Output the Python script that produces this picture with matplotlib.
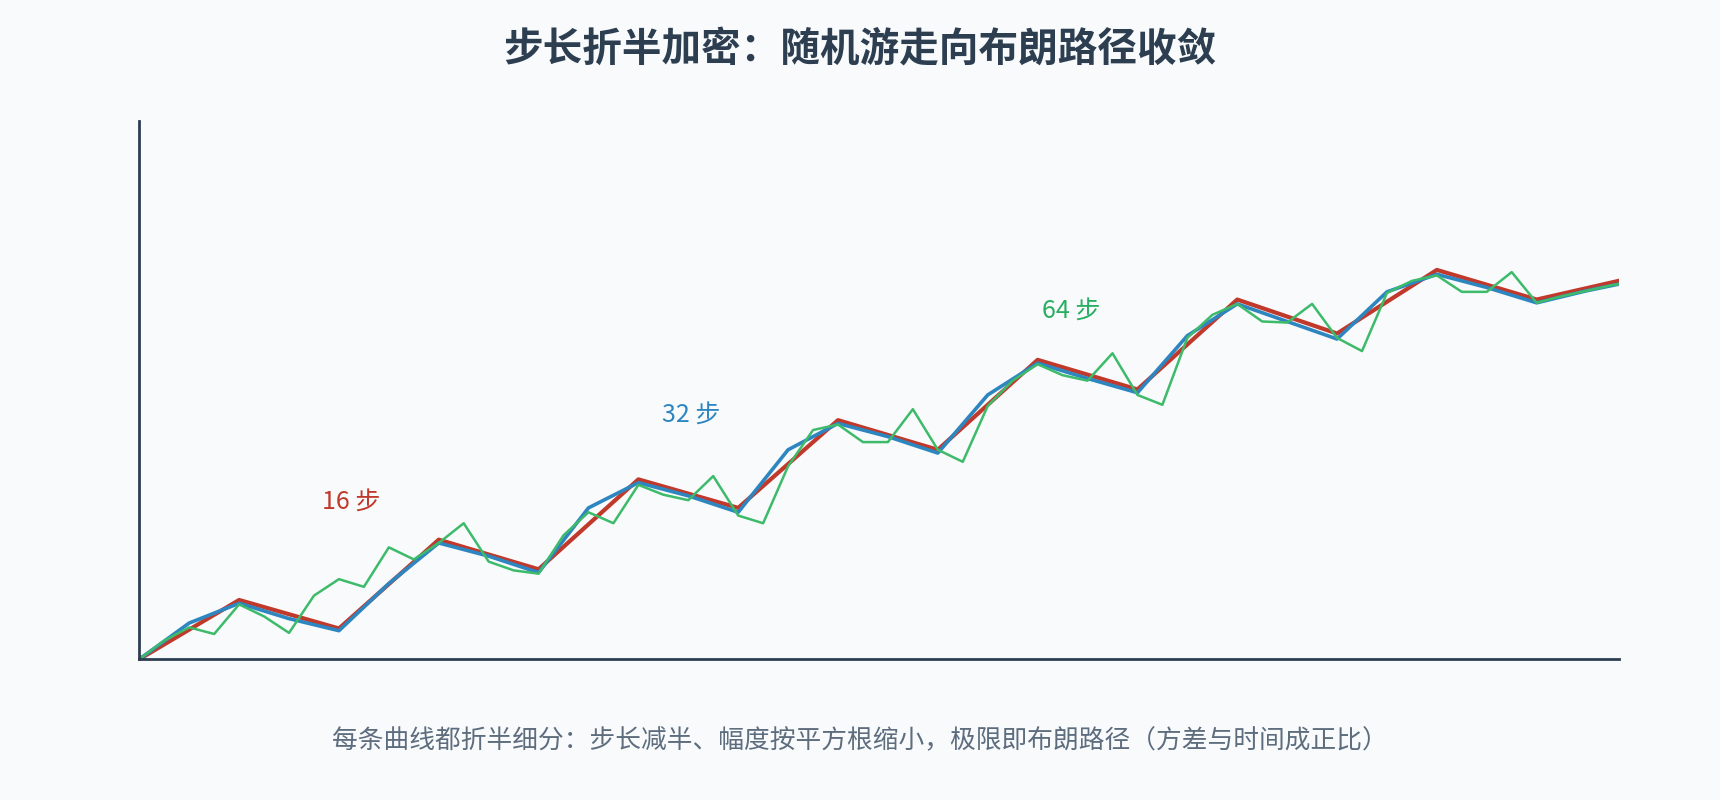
import matplotlib.pyplot as plt

plt.rcParams['font.family'] = ['Noto Sans CJK SC', 'DejaVu Sans']

# Data (x in units of the 16-step grid, y in plot units)
red_t = [0, 1, 2, 3, 4, 5, 6, 7, 8, 9, 10, 11, 12, 13, 14, 14.82]
red_y = [601, 547, 573, 492, 519, 437, 463, 383, 410, 328, 355, 273, 304, 246, 273, 256]

blue_t = [0, 0.5, 1, 1.5, 2, 2.5, 3, 3.5, 4, 4.5, 5, 5.5, 6, 6.5, 7, 7.5, 8,
          8.5, 9, 9.5, 10, 10.5, 11, 11.5, 12, 12.5, 13, 13.5, 14, 14.5, 14.82]
blue_y = [601, 568, 550, 564, 575, 532, 495, 507, 522, 463, 440, 452, 467, 410, 386, 398, 413,
          360, 331, 345, 358, 306, 277, 293, 309, 266, 250, 262, 276, 265, 259]

green_t = [i * 0.25 for i in range(60)] + [14.82]
green_y = [601, 584, 572, 578, 551, 562, 577, 543, 528, 535, 499, 510,
           495, 477, 512, 520, 523, 488, 467, 477, 442, 451, 456, 434,
           470, 477, 425, 392, 387, 403, 403, 373, 410, 421, 370, 347,
           332, 342, 347, 322, 360, 369, 308, 287, 277, 293, 294, 277,
           308, 320, 267, 256, 251, 266, 266, 248, 276, 270, 265, 260, 259]

base = 601


def lift(vals):
    return [base - v for v in vals]


bg = '#f8fafc'
fig = plt.figure(figsize=(17.2, 8), dpi=100, facecolor=bg)
ax = fig.add_axes([0.081, 0.176, 0.86, 0.673], facecolor=bg)

ax.plot(red_t, lift(red_y), color='#c0392b', lw=3.0)
ax.plot(blue_t, lift(blue_y), color='#2e86c1', lw=2.6)
ax.plot(green_t, lift(green_y), color='#3dbb6a', lw=1.8)

ax.set_xlim(0, 14.82)
ax.set_ylim(0, 491)
for s in ['top', 'right']:
    ax.spines[s].set_visible(False)
for s in ['left', 'bottom']:
    ax.spines[s].set_color('#2c3e50')
    ax.spines[s].set_linewidth(2)
ax.set_xticks([])
ax.set_yticks([])

fig.text(0.204, 0.373, '16 步', color='#c0392b', fontsize=18, ha='center', va='center')
fig.text(0.402, 0.481, '32 步', color='#2e86c1', fontsize=18, ha='center', va='center')
fig.text(0.623, 0.612, '64 步', color='#27ae60', fontsize=18, ha='center', va='center')

fig.text(0.5, 0.938, '步长折半加密：随机游走向布朗路径收敛', color='#2c3e50',
         fontsize=28.5, fontweight='bold', ha='center', va='center')
fig.text(0.5, 0.074, '每条曲线都折半细分：步长减半、幅度按平方根缩小，极限即布朗路径（方差与时间成正比）',
         color='#5d6d7e', fontsize=18.5, ha='center', va='center')

fig.savefig('out.png', dpi=100, facecolor=bg)
